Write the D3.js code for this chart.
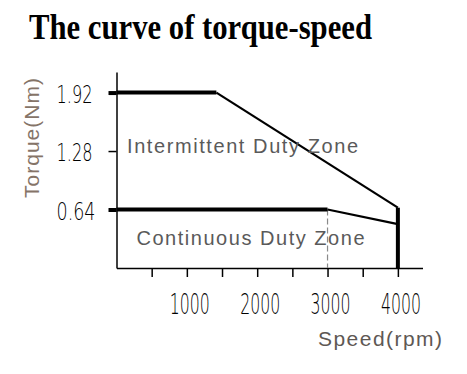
<!DOCTYPE html>
<html>
<head>
<meta charset="utf-8">
<script src="https://cdn.jsdelivr.net/npm/d3@7"></script>
<style>
  html, body { margin: 0; padding: 0; background: #fff; }
  svg { display: block; }
</style>
</head>
<body>
<svg id="chart" width="467" height="374"></svg>
<script>
// ---- data ----
const title = "The curve of torque-speed";
const xTicks = [500, 1000, 1500, 2000, 2500, 3000, 3500, 4000];
const xTickLabels = ["", "1000", "", "2000", "", "3000", "", "4000"];
const yTicks = [0.64, 1.28, 1.92];
const yTickLabels = ["0.64", "1.28", "1.92"];
const intermittentSpeed = [0, 1420, 4000, 4000];
const intermittentTorque = [1.92, 1.92, 0.66, 0];
const continuousSpeed = [0, 3000, 4000];
const continuousTorque = [0.64, 0.64, 0.48];
const zoneLabels = ["Intermittent Duty Zone", "Continuous Duty Zone"];
const xTitle = "Speed(rpm)";
const yTitle = "Torque(Nm)";

// ---- layout ----
const svg = d3.select("#chart");
const m = { left: 116.5, top: 72 };
const W = 306, H = 196;
const x = d3.scaleLinear().domain([0, 4350]).range([0, W]);
const y = d3.scaleLinear().domain([0, 2.145]).range([H, 0]);
const g = svg.append("g").attr("transform", `translate(${m.left},${m.top})`);

// title
svg.append("text")
  .attr("x", 29).attr("y", 39)
  .attr("font-family", "'Liberation Serif', 'Times New Roman', serif")
  .attr("font-weight", "bold").attr("font-size", 35)
  .attr("textLength", 343).attr("lengthAdjust", "spacingAndGlyphs")
  .attr("fill", "#000").text(title);

const tickFont = "'DejaVu Sans', sans-serif";

// x axis
const xAxis = g.append("g").attr("transform", `translate(0,${H})`)
  .call(d3.axisBottom(x).tickValues(xTicks).tickSize(9).tickSizeOuter(0)
    .tickFormat((d, i) => xTickLabels[i]));
xAxis.select(".domain").attr("stroke", "#000").attr("stroke-width", 1.5);
xAxis.selectAll(".tick line").attr("stroke", "#000").attr("stroke-width", 1.5);
xAxis.selectAll(".tick text")
  .attr("y", 46).attr("dy", 0).attr("dx", 2.5)
  .attr("font-family", tickFont).attr("font-weight", 200).attr("font-size", 28)
  .attr("textLength", d => (d % 1000 === 0 ? 40 : null))
  .attr("lengthAdjust", "spacingAndGlyphs")
  .attr("fill", "#000");

// y axis
const yAxis = g.append("g")
  .call(d3.axisLeft(y).tickValues(yTicks).tickSize(8).tickSizeOuter(0)
    .tickFormat((d, i) => yTickLabels[i]));
yAxis.select(".domain").attr("stroke", "#000").attr("stroke-width", 1.5);
yAxis.selectAll(".tick line").attr("stroke", "#000")
  .attr("stroke-width", d => (d === 1.28 ? 1.5 : 4));
yAxis.selectAll(".tick text")
  .attr("x", -60).attr("dy", 9.5).attr("text-anchor", "start")
  .attr("font-family", tickFont).attr("font-weight", 200).attr("font-size", 25)
  .attr("textLength", (d, i) => (yTickLabels[i].startsWith("0") ? 39 : 36))
  .attr("lengthAdjust", "spacingAndGlyphs")
  .attr("fill", "#000");

// dashed guide at 3000 rpm
g.append("line")
  .attr("x1", x(continuousSpeed[1])).attr("x2", x(continuousSpeed[1]))
  .attr("y1", y(continuousTorque[1])).attr("y2", y(0))
  .attr("stroke", "#8a8a8a").attr("stroke-width", 1.2)
  .attr("stroke-dasharray", "6,3");

// curve segments: thick for flat/vertical, thin for sloped
function drawCurve(xs, ys) {
  for (let i = 0; i < xs.length - 1; i++) {
    const sloped = ys[i] !== ys[i + 1] && xs[i] !== xs[i + 1];
    g.append("line")
      .attr("x1", x(xs[i])).attr("y1", y(ys[i]))
      .attr("x2", x(xs[i + 1])).attr("y2", y(ys[i + 1]))
      .attr("stroke", "#000")
      .attr("stroke-width", sloped ? 2.2 : 4)
      .attr("stroke-linecap", "butt");
  }
}
drawCurve(intermittentSpeed, intermittentTorque);
drawCurve(continuousSpeed, continuousTorque);

// zone labels
const zoneFont = "'Liberation Sans', Arial, sans-serif";
svg.append("text").attr("x", 127).attr("y", 153)
  .attr("font-family", zoneFont).attr("font-size", 20)
  .attr("textLength", 231).attr("lengthAdjust", "spacing")
  .attr("fill", "#5a5a5a").text(zoneLabels[0]);
svg.append("text").attr("x", 136.5).attr("y", 244.5)
  .attr("font-family", zoneFont).attr("font-size", 20)
  .attr("textLength", 228).attr("lengthAdjust", "spacing")
  .attr("fill", "#5a5a5a").text(zoneLabels[1]);

// axis titles
svg.append("text").attr("x", 318).attr("y", 345.5)
  .attr("font-family", zoneFont).attr("font-size", 21)
  .attr("textLength", 124).attr("lengthAdjust", "spacing")
  .attr("fill", "#5e5854").text(xTitle);
svg.append("text")
  .attr("transform", "translate(38.5,198) rotate(-90)")
  .attr("font-family", zoneFont).attr("font-size", 21)
  .attr("textLength", 120).attr("lengthAdjust", "spacing")
  .attr("fill", "#857468").text(yTitle);
</script>
</body>
</html>
